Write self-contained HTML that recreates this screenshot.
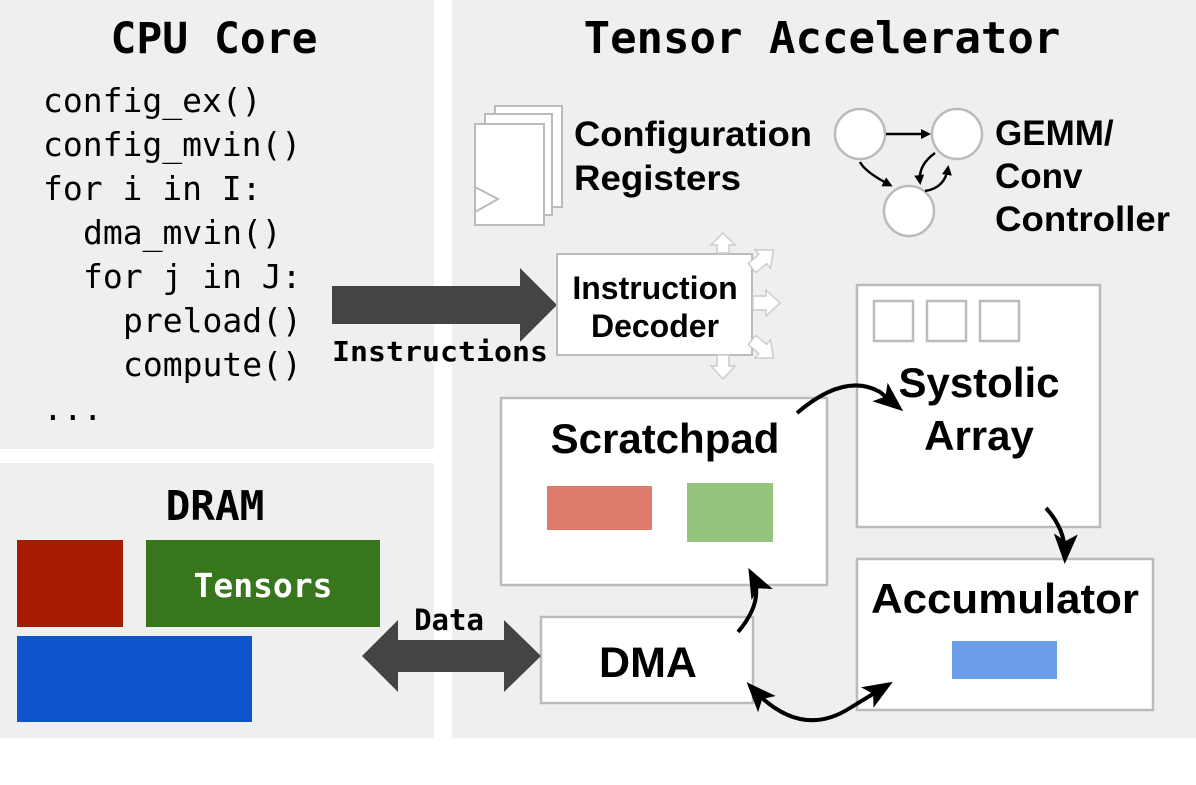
<!DOCTYPE html>
<html><head><meta charset="utf-8"><style>
html,body{margin:0;padding:0;background:#fff}
svg{display:block}
.mono{font-family:"DejaVu Sans Mono","Liberation Mono",monospace}
.sans{font-family:"Liberation Sans",Arial,sans-serif;font-weight:bold}
</style></head><body>
<svg width="1196" height="785" viewBox="0 0 1196 785" xmlns="http://www.w3.org/2000/svg">
<defs>
<marker id="ah" markerWidth="10" markerHeight="10" refX="7" refY="5" orient="auto" markerUnits="userSpaceOnUse" viewBox="0 0 10 10">
<path d="M0,0 L10,5 L0,10 Z" fill="#000"/></marker>
<marker id="ab" markerWidth="30" markerHeight="30" refX="22" refY="15" orient="auto-start-reverse" markerUnits="userSpaceOnUse" viewBox="0 0 30 30">
<path d="M0,3 L30,15 L0,27 L7,15 Z" fill="#000"/></marker>
</defs>
<rect x="0" y="0" width="434" height="449" fill="#efefef"/>
<rect x="0" y="463" width="434" height="275" fill="#efefef"/>
<rect x="452" y="0" width="744" height="738" fill="#efefef"/>

<text x="214" y="53" text-anchor="middle" class="mono" font-weight="bold" font-size="43">CPU Core</text>
<g class="mono" font-size="33" fill="#000">
<text x="43" y="112">config_ex()</text>
<text x="43" y="156">config_mvin()</text>
<text x="43" y="200">for i in I:</text>
<text x="83" y="244">dma_mvin()</text>
<text x="83" y="288">for j in J:</text>
<text x="123" y="332">preload()</text>
<text x="123" y="376">compute()</text>
<text x="43" y="420">...</text>
</g>

<text x="215" y="520" text-anchor="middle" class="mono" font-weight="bold" font-size="41">DRAM</text>
<rect x="17" y="540" width="106" height="87" fill="#a61c00"/>
<rect x="146" y="540" width="234" height="87" fill="#38761d"/>
<text x="263" y="597" text-anchor="middle" class="mono" font-weight="bold" font-size="33" fill="#fff">Tensors</text>
<rect x="17" y="636" width="235" height="86" fill="#1155cc"/>

<text x="822" y="53" text-anchor="middle" class="mono" font-weight="bold" font-size="44">Tensor Accelerator</text>

<g fill="#fff" stroke="#bbb" stroke-width="2">
<rect x="495" y="106" width="67" height="101"/>
<rect x="485" y="114" width="67" height="101"/>
<rect x="475" y="124" width="69" height="101"/>
</g>
<path d="M475,187 L498,199 L475,212" fill="none" stroke="#bbb" stroke-width="2"/>
<text x="574" y="146" class="sans" font-size="35" textLength="238" lengthAdjust="spacingAndGlyphs">Configuration</text>
<text x="574" y="190" class="sans" font-size="35" textLength="167" lengthAdjust="spacingAndGlyphs">Registers</text>

<g fill="#fff" stroke="#bbb" stroke-width="2.5">
<circle cx="860" cy="134" r="25"/>
<circle cx="957" cy="134" r="25"/>
<circle cx="909" cy="211" r="25"/>
</g>
<g fill="none" stroke="#000" stroke-width="2.5">
<line x1="886" y1="134" x2="928" y2="134" marker-end="url(#ah)"/>
<path d="M860,162 Q865,172 890,185" marker-end="url(#ah)"/>
<path d="M935,153 Q918,165 920,182" marker-end="url(#ah)"/>
<path d="M925,191 Q945,188 948,168" marker-end="url(#ah)"/>
</g>
<text x="995" y="145" class="sans" font-size="35">GEMM/</text>
<text x="995" y="188" class="sans" font-size="35">Conv</text>
<text x="995" y="231" class="sans" font-size="35" textLength="175" lengthAdjust="spacingAndGlyphs">Controller</text>

<path d="M332,286 L520,286 L520,268 L557,305 L520,342 L520,324 L332,324 Z" fill="#444"/>
<text x="332" y="361" class="mono" font-weight="bold" font-size="28" textLength="216" lengthAdjust="spacingAndGlyphs">Instructions</text>

<rect x="557" y="254" width="195" height="101" fill="#fff" stroke="#bbb" stroke-width="2"/>
<text x="655" y="299" text-anchor="middle" class="sans" font-size="32">Instruction</text>
<text x="655" y="337" text-anchor="middle" class="sans" font-size="32">Decoder</text>
<g fill="#fff" stroke="#ccc" stroke-width="1.5">
<path d="M717,253 L717,245 L711,245 L723,233 L735,245 L729,245 L729,253 Z"/>
<path d="M717,355 L717,366 L711,366 L723,379 L735,366 L729,366 L729,355 Z"/>
<path d="M753,296 L766,296 L766,290 L780,303 L766,316 L766,310 L753,310 Z"/>
<g transform="translate(752,268) rotate(-40)"><path d="M0,-6 L14,-6 L14,-12 L28,0 L14,12 L14,6 L0,6 Z"/></g>
<g transform="translate(752,340) rotate(40)"><path d="M0,-6 L14,-6 L14,-12 L28,0 L14,12 L14,6 L0,6 Z"/></g>
</g>

<rect x="501" y="398" width="326" height="187" fill="#fff" stroke="#bbb" stroke-width="2.5"/>
<text x="665" y="453" text-anchor="middle" class="sans" font-size="42">Scratchpad</text>
<rect x="547" y="486" width="105" height="44" fill="#dd7c6a"/>
<rect x="687" y="483" width="86" height="59" fill="#93c47d"/>

<rect x="857" y="285" width="243" height="242" fill="#fff" stroke="#bbb" stroke-width="2.5"/>
<g fill="#fff" stroke="#bbb" stroke-width="2.5">
<rect x="874" y="301" width="39" height="40"/>
<rect x="927" y="301" width="39" height="40"/>
<rect x="980" y="301" width="39" height="40"/>
</g>
<text x="979" y="397" text-anchor="middle" class="sans" font-size="42">Systolic</text>
<text x="979" y="450" text-anchor="middle" class="sans" font-size="42">Array</text>

<rect x="857" y="559" width="296" height="151" fill="#fff" stroke="#bbb" stroke-width="2.5"/>
<text x="1005" y="613" text-anchor="middle" class="sans" font-size="42" textLength="268" lengthAdjust="spacingAndGlyphs">Accumulator</text>
<rect x="952" y="641" width="105" height="38" fill="#6d9eeb"/>

<rect x="541" y="617" width="212" height="86" fill="#fff" stroke="#bbb" stroke-width="2.5"/>
<text x="648" y="677" text-anchor="middle" class="sans" font-size="43">DMA</text>

<path d="M362,656 L398,620 L398,640 L504,640 L504,620 L541,656 L504,692 L504,672 L398,672 L398,692 Z" fill="#444"/>
<text x="449" y="630" text-anchor="middle" class="mono" font-weight="bold" font-size="29">Data</text>

<g fill="none" stroke="#000" stroke-width="4">
<path d="M797,413 Q845,372 880,392 L897,406" marker-end="url(#ab)"/>
<path d="M1046,508 Q1066,530 1065,556" marker-end="url(#ab)"/>
<path d="M738,632 Q765,600 752,575" marker-end="url(#ab)"/>
<path d="M752,688 Q800,740 850,708 L886,686" marker-end="url(#ab)" marker-start="url(#ab)"/>
</g>
</svg>
</body></html>
